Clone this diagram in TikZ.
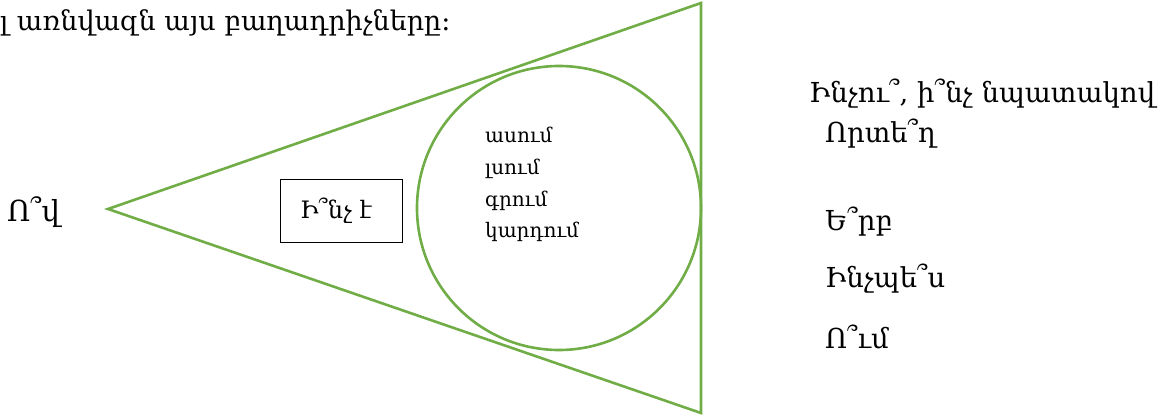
\documentclass[tikz,border=0pt]{standalone}
\usepackage{fontspec}
\setmainfont{DejaVu Serif}
\definecolor{ogreen}{HTML}{70AD47}
\tikzset{
  shapeline/.style={draw=ogreen, line width=2.6pt},
  lbl/.style={inner sep=0pt, anchor=base west},
  big/.style={lbl, font=\fontsize{29}{31}\selectfont},
  mid/.style={lbl, font=\fontsize{27.5}{30}\selectfont},
  boxt/.style={lbl, font=\fontsize{24}{26}\selectfont},
  small/.style={lbl, font=\fontsize{20}{22}\selectfont},
}
\begin{document}
\begin{tikzpicture}[x=1pt,y=-1pt]
\useasboundingbox (0,0) rectangle (1173,417);
\clip (0,0) rectangle (1173,417);
\coordinate (L) at (108,209);
\coordinate (T) at (701,3);
\coordinate (B) at (701,413);
\draw[shapeline, line join=miter] (L) -- (T) -- (B) -- cycle;
\node[shapeline, circle, minimum size=284pt, inner sep=0pt] (circ) at (559,208) {};
\node[draw=black, line width=1pt, minimum width=122pt, minimum height=62pt, inner sep=0pt] (box) at (341,211) {};
\node[boxt] (what) at (300,218) {Ի՞նչ է};
\node[lbl, font=\fontsize{27}{29}\selectfont] (top) at (0,31) {լ առնվազն այս բաղադրիչները։};
\node[big] (who) at (7,222) {Ո՞վ};
\node[small] (v1) at (485,143) {ասում};
\node[small] (v2) at (485,175) {լսում};
\node[small] (v3) at (485,206) {գրում};
\node[small] (v4) at (485,237) {կարդում};
\node[mid] (q1) at (809,103) {Ինչու՞, ի՞նչ նպատակով};
\node[mid] (q2) at (825,143) {Որտե՞ղ};
\node[mid] (q3) at (825,230) {Ե՞րբ};
\node[mid] (q4) at (825,287) {Ինչպե՞ս};
\node[mid] (q5) at (825,348) {Ո՞ւմ};
\end{tikzpicture}
\end{document}
